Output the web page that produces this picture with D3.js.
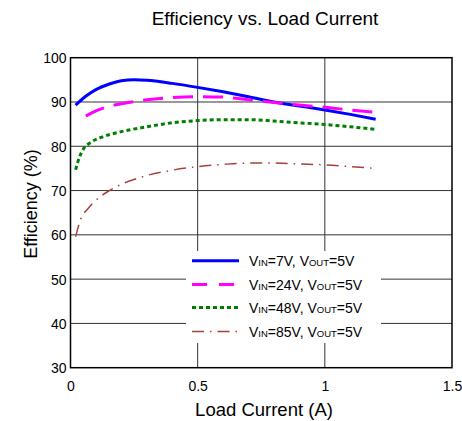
<!DOCTYPE html>
<html><head><meta charset="utf-8">
<script src="https://cdn.jsdelivr.net/npm/d3@7"></script>
<style>body{margin:0;background:#fff}svg{display:block}text{font-family:"Liberation Sans",Arial,sans-serif;fill:#000}</style>
</head><body><svg id="c" width="462" height="421"></svg>
<script>
const xTicks = [0, 0.5, 1, 1.5];
const xTickLabels = ["0", "0.5", "1", "1.5"];
const yTicks = [30, 40, 50, 60, 70, 80, 90, 100];
const seriesNames = ["7V", "24V", "48V", "85V"];
const vin7 = [[0.02,89.3],[0.06,91.3],[0.1,92.8],[0.15,94.0],[0.2,94.8],[0.25,95.0],[0.3,94.9],[0.4,94.2],[0.5,93.3],[0.6,92.3],[0.7,91.2],[0.8,90.0],[0.9,89.1],[1.0,88.2],[1.1,87.2],[1.2,86.1]];
const vin24 = [[0.06,86.8],[0.1,88.0],[0.15,89.0],[0.2,89.6],[0.25,90.1],[0.3,90.5],[0.4,91.0],[0.5,91.2],[0.6,91.1],[0.7,90.5],[0.8,89.9],[0.9,89.3],[1.0,88.8],[1.1,88.2],[1.2,87.7]];
const vin48 = [[0.02,74.7],[0.035,77.5],[0.05,79.3],[0.08,80.9],[0.12,82.0],[0.2,83.3],[0.3,84.4],[0.4,85.3],[0.5,85.8],[0.6,86.0],[0.7,86.0],[0.8,85.7],[0.9,85.3],[1.0,84.9],[1.1,84.4],[1.2,83.8]];
const vin85 = [[0.02,59.6],[0.04,63.5],[0.07,66.0],[0.1,67.8],[0.15,69.9],[0.2,71.4],[0.3,73.4],[0.4,74.6],[0.5,75.4],[0.6,75.9],[0.7,76.2],[0.8,76.2],[0.9,76.0],[1.0,75.8],[1.1,75.4],[1.2,75.0]];

const styles = [
  {color:"#0000ff", width:3, dash:null},
  {color:"#ff00ff", width:3, dash:"20,10"},
  {color:"#008000", width:3, dash:"4,3"},
  {color:"#a5423a", width:1.5, dash:"12,6,1.5,6"}
];
const allData = [vin7, vin24, vin48, vin85];

const svg = d3.select("#c");
const L = 70.5, R = 452, T = 57.7, B = 367.7;
const x = d3.scaleLinear().domain([0, 1.5]).range([L, R]);
const y = d3.scaleLinear().domain([30, 100]).range([B, T]);

// grid
const g = svg.append("g");
g.selectAll(".vg").data(xTicks.slice(1, -1)).join("line")
  .attr("x1", d => x(d)).attr("x2", d => x(d)).attr("y1", T).attr("y2", B)
  .attr("stroke", "#333").attr("stroke-width", 1);
g.selectAll(".hg").data(yTicks.slice(1, -1)).join("line")
  .attr("x1", L).attr("x2", R).attr("y1", d => y(d)).attr("y2", d => y(d))
  .attr("stroke", "#333").attr("stroke-width", 1);

// curves
const line = d3.line().x(d => x(d[0])).y(d => y(d[1])).curve(d3.curveMonotoneX);
allData.forEach((data, i) => {
  const s = styles[i];
  svg.append("path").attr("d", line(data)).attr("fill", "none")
    .attr("stroke", s.color).attr("stroke-width", s.width)
    .attr("stroke-dasharray", s.dash);
});

// frame
svg.append("rect").attr("x", L).attr("y", T).attr("width", R - L).attr("height", B - T)
  .attr("fill", "none").attr("stroke", "#000").attr("stroke-width", 1.5);

// axes
const xAxis = d3.axisBottom(x).tickValues(xTicks).tickFormat((d, i) => xTickLabels[i]).tickSize(0).tickPadding(0);
const xa = svg.append("g").attr("transform", `translate(0,${B})`).call(xAxis);
xa.select(".domain").remove();
xa.selectAll("text").attr("dy", null).attr("y", 23).style("font-size", "14px")
  .style("font-family", '"Liberation Sans",Arial,sans-serif');
const yAxis = d3.axisLeft(y).tickValues(yTicks).tickSize(0).tickPadding(0);
const ya = svg.append("g").attr("transform", `translate(${L - 4},0)`).call(yAxis);
ya.select(".domain").remove();
ya.selectAll("text").attr("dy", "0.35em").attr("x", 0).style("font-size", "14px")
  .style("font-family", '"Liberation Sans",Arial,sans-serif');

// titles
svg.append("text").attr("x", 265).attr("y", 25).attr("text-anchor", "middle")
  .style("font-size", "19px").text("Efficiency vs. Load Current");
svg.append("text").attr("x", 264).attr("y", 416).attr("text-anchor", "middle")
  .style("font-size", "18.5px").text("Load Current (A)");
svg.append("text").attr("transform", "translate(37,204) rotate(-90)").attr("text-anchor", "middle")
  .style("font-size", "18px").text("Efficiency (%)");

// legend
svg.append("rect").attr("x", 186).attr("y", 251).attr("width", 195).attr("height", 92).attr("fill", "#fff");
const rowY = [260.7, 284.5, 307.5, 331.5];
seriesNames.forEach((n, i) => {
  const s = styles[i];
  svg.append("line").attr("x1", 192).attr("x2", 239).attr("y1", rowY[i]).attr("y2", rowY[i])
    .attr("stroke", s.color).attr("stroke-width", s.width)
    .attr("stroke-dasharray", i === 1 ? "15,12" : s.dash);
  const t = svg.append("text").attr("x", 249).attr("y", rowY[i] + 5).style("font-size", "14px");
  t.append("tspan").text("V");
  t.append("tspan").style("font-size", "9.5px").text("IN");
  t.append("tspan").text("=" + n + ", V");
  t.append("tspan").style("font-size", "9.5px").text("OUT");
  t.append("tspan").text("=5V");
});
</script></body></html>
